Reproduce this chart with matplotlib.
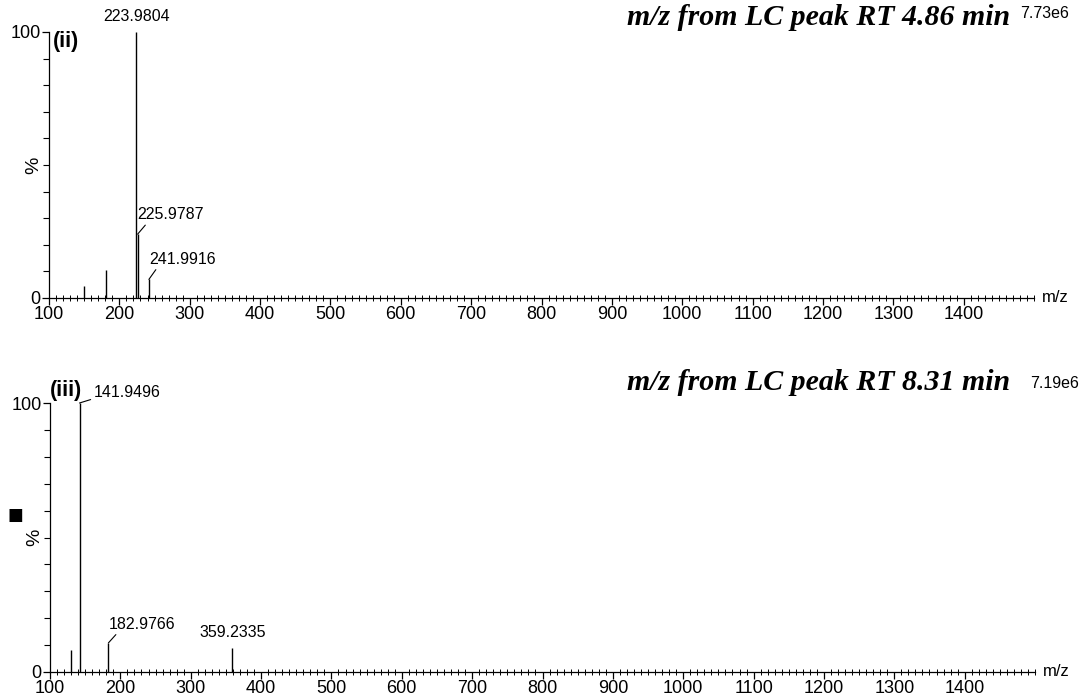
import numpy as np
from matplotlib import pyplot as plt
from matplotlib.ticker import MultipleLocator, FixedLocator

# peak lists for the two LC peaks (m/z, relative intensity %)
mz_ii = [150.0, 181.0, 223.9804, 225.9787, 241.9916]
int_ii = [4.5, 10.5, 100.0, 24.0, 7.0]
labels_ii = ["", "", "223.9804", "225.9787", "241.9916"]
base_ii = "7.73e6"
title_ii = "m/z from LC peak RT 4.86 min"

mz_iii = [130.0, 141.9496, 182.9766, 359.2335]
int_iii = [8.2, 100.0, 10.8, 8.9]
labels_iii = ["", "141.9496", "182.9766", "359.2335"]
base_iii = "7.19e6"
title_iii = "m/z from LC peak RT 8.31 min"

plt.rcParams["font.family"] = ["Liberation Sans", "DejaVu Sans"]

W, H = 1086, 699
fig = plt.figure(figsize=(W / 100, H / 100), dpi=100)
ax1 = fig.add_axes([49 / W, 1 - 298 / H, 985 / W, 266 / H])
ax2 = fig.add_axes([50 / W, 1 - 672 / H, 985 / W, 269 / H])


def px(x, y):
    # pixel position -> figure fraction
    return x / W, 1 - y / H


def draw_spectrum(ax, mz, inten, labels, offsets):
    ax.vlines(mz, 0, inten, color="k", lw=1.0)
    ax.set_xlim(100, 1500)
    ax.set_ylim(0, 100)
    for s in ["top", "right"]:
        ax.spines[s].set_visible(False)
    ax.spines["left"].set_linewidth(0.9)
    ax.spines["bottom"].set_linewidth(0.9)

    ax.xaxis.set_major_locator(FixedLocator(np.arange(100, 1401, 100)))
    ax.xaxis.set_minor_locator(MultipleLocator(10))
    ax.tick_params(axis="x", which="major", direction="out", length=5, width=0.9,
                   labelsize=13, pad=1)
    ax.tick_params(axis="x", which="minor", direction="inout", length=4, width=0.7)

    ax.yaxis.set_major_locator(FixedLocator([0, 100]))
    ax.yaxis.set_minor_locator(MultipleLocator(10))
    ax.tick_params(axis="y", which="major", direction="out", length=5, width=0.9,
                   labelsize=13, pad=1)
    ax.tick_params(axis="y", which="minor", direction="out", length=4, width=0.8)

    ax.annotate("%", xy=(0, 50), xycoords=("axes fraction", "data"),
                xytext=(-5, 0), textcoords="offset points", rotation=90,
                ha="right", va="center", fontsize=14)
    ax.text(1.008, 0, "m/z", ha="left", va="center", fontsize=12,
            transform=ax.get_yaxis_transform())

    # peak labels: plain ones sit centred on top, the rest get a short leader
    for x, y, lab, off in zip(mz, inten, labels, offsets):
        if not lab:
            continue
        if off is None:
            ax.annotate(lab, xy=(x, y), xytext=(0, 6), textcoords="offset points",
                        ha="center", va="bottom", fontsize=11.5, annotation_clip=False)
        else:
            ax.annotate(lab, xy=(x, y), xytext=off[:2], textcoords="offset points",
                        ha="left", va="bottom", fontsize=11.5, annotation_clip=False,
                        arrowprops=dict(arrowstyle="-", lw=0.8, color="k",
                                        shrinkA=0, shrinkB=0, relpos=(off[2], 0.1)))


draw_spectrum(ax1, mz_ii, int_ii, labels_ii,
              [None, None, None, (0, 8.5, 0.17), (0, 9, 0.15)])
draw_spectrum(ax2, mz_iii, int_iii, labels_iii,
              [None, (10, 2, 0.0), (0, 8, 0.17), None])

title_font = dict(fontsize=21.5, fontweight="bold", style="italic",
                  family=["Liberation Serif", "DejaVu Serif"], ha="right", va="baseline")
fig.text(*px(1010, 25), title_ii, **title_font)
fig.text(*px(1010, 390), title_iii, **title_font)
fig.text(*px(1020, 18), base_ii, ha="left", va="baseline", fontsize=11.5)
fig.text(*px(1030, 388), base_iii, ha="left", va="baseline", fontsize=11.5)

fig.text(*px(53, 42), "(ii)", ha="left", va="center", fontsize=15.5, fontweight="bold")
fig.text(*px(50, 396), "(iii)", ha="left", va="baseline", fontsize=15.5, fontweight="bold")

fig.text(*px(15, 515), "■", ha="center", va="center", fontsize=12,
         family=["DejaVu Sans"])

fig.savefig("out.png", dpi=100)
